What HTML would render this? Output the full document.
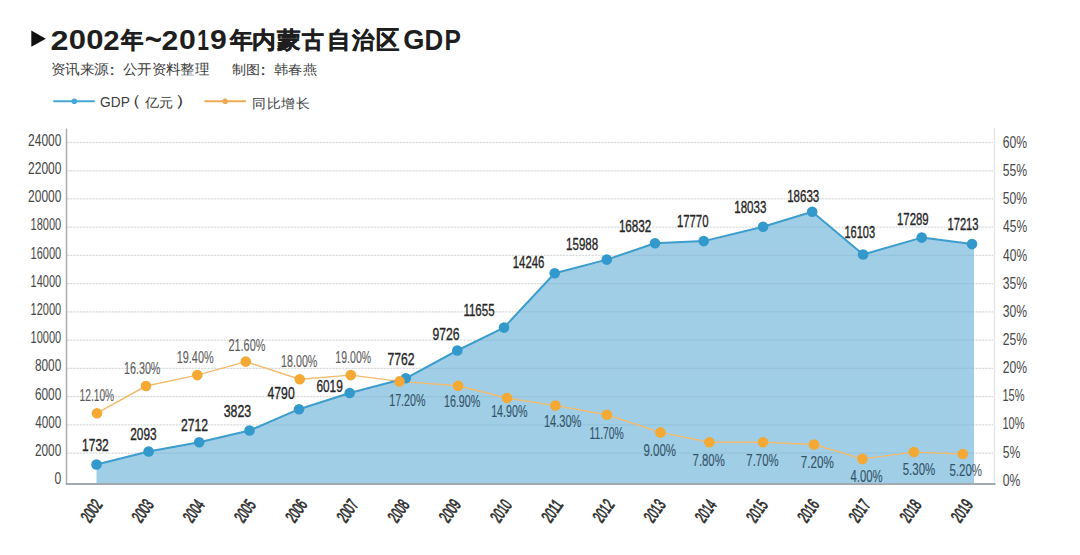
<!DOCTYPE html>
<html><head><meta charset="utf-8">
<style>
html,body{margin:0;padding:0;background:#fff;}
body{width:1080px;height:555px;overflow:hidden;position:relative;font-family:"Liberation Sans",sans-serif;}
svg{position:absolute;left:0;top:0;}

.g{font-family:"Liberation Sans",sans-serif;font-size:16px;}
.p{font-family:"Liberation Sans",sans-serif;font-size:16px;}
.ax{font-family:"Liberation Sans",sans-serif;font-size:16px;}
.yr{font-family:"Liberation Sans",sans-serif;font-size:16px;}
.t{font-family:"Liberation Sans",sans-serif;font-weight:bold;font-size:27px;}
.s{font-family:"Liberation Sans",sans-serif;font-size:14px;}

.g{fill:#262626;stroke:#262626;stroke-width:0.35px;}
.p{fill:#1a1a1a;stroke:#1a1a1a;stroke-width:0.15px;opacity:0.72;}
.p.b{fill:#0a2538;stroke:#0a2538;}
.ax{fill:#474747;}
.yr{fill:#2e2e2e;stroke:#2e2e2e;stroke-width:0.7px;}
.t{fill:#1e1e1e;}
.tc{stroke:#1e1e1e;stroke-width:0.5px;}
.s{fill:#3c3c3c;}
</style></head><body>
<svg width="1080" height="555" viewBox="0 0 1080 555">
<polygon points="31.3,30.6 45.8,38.7 31.3,46.8" fill="#111"/>
<line x1="53.3" y1="101.3" x2="94.8" y2="101.3" stroke="#46a6d6" stroke-width="2"/>
<circle cx="74.3" cy="101.3" r="2.8" fill="#46a6d6"/>
<line x1="204.4" y1="101.3" x2="245.9" y2="101.3" stroke="#f0aa55" stroke-width="2"/>
<circle cx="225.2" cy="101.3" r="2.8" fill="#f0aa55"/>
<g stroke="#e3e3e3" stroke-width="1.2" stroke-dasharray="1.6 1.6"><line x1="67" y1="142.5" x2="993" y2="142.5"/><line x1="67" y1="170.73" x2="993" y2="170.73"/><line x1="67" y1="198.96" x2="993" y2="198.96"/><line x1="67" y1="227.19" x2="993" y2="227.19"/><line x1="67" y1="255.42" x2="993" y2="255.42"/><line x1="67" y1="283.65" x2="993" y2="283.65"/><line x1="67" y1="311.88" x2="993" y2="311.88"/><line x1="67" y1="340.11" x2="993" y2="340.11"/><line x1="67" y1="368.34" x2="993" y2="368.34"/><line x1="67" y1="396.57" x2="993" y2="396.57"/><line x1="67" y1="424.8" x2="993" y2="424.8"/><line x1="67" y1="453.03" x2="993" y2="453.03"/></g>
<polygon points="96.5,483 96.5,464.5 148.6,451.5 199.2,442.2 249.5,430.5 299,409.2 349.7,393 405.8,378.3 457.3,350.5 504,327.6 554.7,273.2 606.8,259.6 655,243.3 703.7,241.1 763.1,226.7 812.2,211.7 863.1,254.5 921.7,237.6 972,244.1 974,244.5 974,483" fill="#a0cee6"/>
<g stroke="rgba(0,30,60,0.055)" stroke-width="1.3"><line x1="67" y1="142.5" x2="993" y2="142.5"/><line x1="67" y1="170.73" x2="993" y2="170.73"/><line x1="67" y1="198.96" x2="993" y2="198.96"/><line x1="67" y1="227.19" x2="993" y2="227.19"/><line x1="67" y1="255.42" x2="993" y2="255.42"/><line x1="67" y1="283.65" x2="993" y2="283.65"/><line x1="67" y1="311.88" x2="993" y2="311.88"/><line x1="67" y1="340.11" x2="993" y2="340.11"/><line x1="67" y1="368.34" x2="993" y2="368.34"/><line x1="67" y1="396.57" x2="993" y2="396.57"/><line x1="67" y1="424.8" x2="993" y2="424.8"/><line x1="67" y1="453.03" x2="993" y2="453.03"/></g>
<line x1="66.5" y1="128.5" x2="66.5" y2="484.5" stroke="#adadad" stroke-width="1.5"/>
<line x1="994.5" y1="128" x2="994.5" y2="484.5" stroke="#e6e6e6" stroke-width="1.5"/>
<line x1="65.8" y1="483.9" x2="995.5" y2="483.9" stroke="#a2aab0" stroke-width="2"/>
<polyline points="97,413.2 146,386 197.3,375.1 245.8,361.6 299.7,379.2 350.8,375.1 399.5,381.4 458.1,385.7 507,398 555.4,405.6 606.9,414.8 660.4,432.4 709.4,442.2 763,442.2 814,444.5 862.4,458.9 913.9,452.1 962.8,454" fill="none" stroke="#f3bb6e" stroke-width="1.45" stroke-linejoin="round"/>
<polyline points="96.5,464.5 148.6,451.5 199.2,442.2 249.5,430.5 299,409.2 349.7,393 405.8,378.3 457.3,350.5 504,327.6 554.7,273.2 606.8,259.6 655,243.3 703.7,241.1 763.1,226.7 812.2,211.7 863.1,254.5 921.7,237.6 972,244.1" fill="none" stroke="#3d9dcc" stroke-width="2" stroke-linejoin="round"/>
<circle cx="96.5" cy="464.5" r="5.3" fill="#3399cc"/>
<circle cx="148.6" cy="451.5" r="5.3" fill="#3399cc"/>
<circle cx="199.2" cy="442.2" r="5.3" fill="#3399cc"/>
<circle cx="249.5" cy="430.5" r="5.3" fill="#3399cc"/>
<circle cx="299" cy="409.2" r="5.3" fill="#3399cc"/>
<circle cx="349.7" cy="393" r="5.3" fill="#3399cc"/>
<circle cx="405.8" cy="378.3" r="5.3" fill="#3399cc"/>
<circle cx="457.3" cy="350.5" r="5.3" fill="#3399cc"/>
<circle cx="504" cy="327.6" r="5.3" fill="#3399cc"/>
<circle cx="554.7" cy="273.2" r="5.3" fill="#3399cc"/>
<circle cx="606.8" cy="259.6" r="5.3" fill="#3399cc"/>
<circle cx="655" cy="243.3" r="5.3" fill="#3399cc"/>
<circle cx="703.7" cy="241.1" r="5.3" fill="#3399cc"/>
<circle cx="763.1" cy="226.7" r="5.3" fill="#3399cc"/>
<circle cx="812.2" cy="211.7" r="5.3" fill="#3399cc"/>
<circle cx="863.1" cy="254.5" r="5.3" fill="#3399cc"/>
<circle cx="921.7" cy="237.6" r="5.3" fill="#3399cc"/>
<circle cx="972" cy="244.1" r="5.3" fill="#3399cc"/>
<circle cx="97" cy="413.2" r="5.3" fill="#f4a935"/>
<circle cx="146" cy="386" r="5.3" fill="#f4a935"/>
<circle cx="197.3" cy="375.1" r="5.3" fill="#f4a935"/>
<circle cx="245.8" cy="361.6" r="5.3" fill="#f4a935"/>
<circle cx="299.7" cy="379.2" r="5.3" fill="#f4a935"/>
<circle cx="350.8" cy="375.1" r="5.3" fill="#f4a935"/>
<circle cx="399.5" cy="381.4" r="5.3" fill="#f4a935"/>
<circle cx="458.1" cy="385.7" r="5.3" fill="#f4a935"/>
<circle cx="507" cy="398" r="5.3" fill="#f4a935"/>
<circle cx="555.4" cy="405.6" r="5.3" fill="#f4a935"/>
<circle cx="606.9" cy="414.8" r="5.3" fill="#f4a935"/>
<circle cx="660.4" cy="432.4" r="5.3" fill="#f4a935"/>
<circle cx="709.4" cy="442.2" r="5.3" fill="#f4a935"/>
<circle cx="763" cy="442.2" r="5.3" fill="#f4a935"/>
<circle cx="814" cy="444.5" r="5.3" fill="#f4a935"/>
<circle cx="862.4" cy="458.9" r="5.3" fill="#f4a935"/>
<circle cx="913.9" cy="452.1" r="5.3" fill="#f4a935"/>
<circle cx="962.8" cy="454" r="5.3" fill="#f4a935"/>
<text transform="matrix(0.75 0 0 1.03 82.07 451.19)" class="g">1732</text>
<text transform="matrix(0.74 0 0 1.03 130.24 440.34)" class="g">2093</text>
<text transform="matrix(0.76 0 0 1.05 181.03 430.65)" class="g">2712</text>
<text transform="matrix(0.77 0 0 1.03 223.72 416.99)" class="g">3823</text>
<text transform="matrix(0.76 0 0 1.03 267.61 399.19)" class="g">4790</text>
<text transform="matrix(0.74 0 0 1.03 316.44 391.99)" class="g">6019</text>
<text transform="matrix(0.76 0 0 1.03 387.43 364.54)" class="g">7762</text>
<text transform="matrix(0.76 0 0 1.03 432.43 340.09)" class="g">9726</text>
<text transform="matrix(0.72 0 0 1.03 463.41 315.74)" class="g">11655</text>
<text transform="matrix(0.71 0 0 1.03 512.81 268.39)" class="g">14246</text>
<text transform="matrix(0.72 0 0 1.03 566.1 249.74)" class="g">15988</text>
<text transform="matrix(0.73 0 0 1.03 618.88 231.94)" class="g">16832</text>
<text transform="matrix(0.71 0 0 1.03 676.91 226.59)" class="g">17770</text>
<text transform="matrix(0.72 0 0 1.03 734.3 213.24)" class="g">18033</text>
<text transform="matrix(0.72 0 0 1.03 787.2 202.24)" class="g">18633</text>
<text transform="matrix(0.69 0 0 1.03 844.44 238.49)" class="g">16103</text>
<text transform="matrix(0.71 0 0 1.03 897.01 225.14)" class="g">17289</text>
<text transform="matrix(0.7 0 0 1.03 947.43 230.04)" class="g">17213</text>
<text transform="matrix(0.64 0 0 0.99 79.5 400.6)" class="p">12.10%</text>
<text transform="matrix(0.67 0 0 0.99 124.06 373.55)" class="p">16.30%</text>
<text transform="matrix(0.68 0 0 0.99 176.75 362.75)" class="p">19.40%</text>
<text transform="matrix(0.68 0 0 0.99 228.49 350.85)" class="p">21.60%</text>
<text transform="matrix(0.67 0 0 0.99 281.06 367.05)" class="p">18.00%</text>
<text transform="matrix(0.66 0 0 0.99 335.37 362.85)" class="p">19.00%</text>
<text transform="matrix(0.67 0 0 0.99 389.17 405.75)" class="p b">17.20%</text>
<text transform="matrix(0.67 0 0 0.99 443.96 407.4)" class="p b">16.90%</text>
<text transform="matrix(0.67 0 0 0.99 491.16 416.65)" class="p b">14.90%</text>
<text transform="matrix(0.69 0 0 0.99 543.94 426.85)" class="p b">14.30%</text>
<text transform="matrix(0.65 0 0 0.99 589.39 438.85)" class="p b">11.70%</text>
<text transform="matrix(0.72 0 0 0.99 643.46 455.65)" class="p b">9.00%</text>
<text transform="matrix(0.71 0 0 0.99 692.57 465.5)" class="p b">7.80%</text>
<text transform="matrix(0.71 0 0 0.99 746.36 465.5)" class="p b">7.70%</text>
<text transform="matrix(0.73 0 0 0.99 800.76 468.25)" class="p b">7.20%</text>
<text transform="matrix(0.71 0 0 0.99 850.52 482.1)" class="p b">4.00%</text>
<text transform="matrix(0.72 0 0 0.99 902.66 475.35)" class="p b">5.30%</text>
<text transform="matrix(0.72 0 0 0.99 949.46 476.2)" class="p b">5.20%</text>
<text transform="matrix(0.75 0 0 0.99 28.04 145.75)" class="ax">24000</text>
<text transform="matrix(0.75 0 0 0.99 28.04 173.95)" class="ax">22000</text>
<text transform="matrix(0.75 0 0 0.99 28.04 202.15)" class="ax">20000</text>
<text transform="matrix(0.69 0 0 0.99 30.53 230.35)" class="ax">18000</text>
<text transform="matrix(0.69 0 0 0.99 30.53 258.55)" class="ax">16000</text>
<text transform="matrix(0.69 0 0 0.99 30.53 286.75)" class="ax">14000</text>
<text transform="matrix(0.69 0 0 0.99 30.53 314.95)" class="ax">12000</text>
<text transform="matrix(0.69 0 0 0.99 30.53 343.15)" class="ax">10000</text>
<text transform="matrix(0.74 0 0 0.99 34.94 371.35)" class="ax">8000</text>
<text transform="matrix(0.74 0 0 0.99 34.94 399.55)" class="ax">6000</text>
<text transform="matrix(0.73 0 0 0.99 35.32 427.75)" class="ax">4000</text>
<text transform="matrix(0.74 0 0 0.99 34.94 455.95)" class="ax">2000</text>
<text transform="matrix(0.76 0 0 0.99 54.43 484.15)" class="ax">0</text>
<text transform="matrix(0.76 0 0 0.99 1002.73 147.95)" class="ax">60%</text>
<text transform="matrix(0.76 0 0 1.01 1002.73 176.1)" class="ax">55%</text>
<text transform="matrix(0.76 0 0 0.99 1002.73 204.25)" class="ax">50%</text>
<text transform="matrix(0.75 0 0 1.01 1003.11 232.4)" class="ax">45%</text>
<text transform="matrix(0.75 0 0 0.99 1003.11 260.55)" class="ax">40%</text>
<text transform="matrix(0.76 0 0 0.99 1002.73 288.7)" class="ax">35%</text>
<text transform="matrix(0.76 0 0 0.99 1002.73 316.85)" class="ax">30%</text>
<text transform="matrix(0.76 0 0 0.99 1002.73 345)" class="ax">25%</text>
<text transform="matrix(0.76 0 0 0.99 1002.73 373.15)" class="ax">20%</text>
<text transform="matrix(0.69 0 0 1.01 1002.44 401.3)" class="ax">15%</text>
<text transform="matrix(0.69 0 0 0.99 1002.44 429.45)" class="ax">10%</text>
<text transform="matrix(0.76 0 0 1.01 1002.73 457.6)" class="ax">5%</text>
<text transform="matrix(0.76 0 0 0.99 1002.73 485.75)" class="ax">0%</text>
<text transform="matrix(1.2 0 0 1.05 50.6 49.5)" class="t">2</text>
<text transform="matrix(1.15 0 0 1.03 68.75 49.24)" class="t">0</text>
<text transform="matrix(1.15 0 0 1.03 86.25 49.24)" class="t">0</text>
<text transform="matrix(1.09 0 0 1.05 103.21 49.5)" class="t">2</text>
<text transform="matrix(0.85 0 0 0.87 121.43 47.83)" class="t tc">年</text>
<text transform="matrix(1.09 0 0 1.22 144.71 50.46)" class="t">~</text>
<text transform="matrix(1.12 0 0 1.05 161.48 49.5)" class="t">2</text>
<text transform="matrix(1.12 0 0 1.03 178.98 49.24)" class="t">0</text>
<text transform="matrix(0.78 0 0 1.06 197.24 49.5)" class="t">1</text>
<text transform="matrix(1.12 0 0 1.03 210.08 49.24)" class="t">9</text>
<text transform="matrix(0.86 0 0 0.87 229.63 47.83)" class="t tc">年</text>
<text transform="matrix(0.89 0 0 0.86 251.65 47.68)" class="t tc">内</text>
<text transform="matrix(0.87 0 0 0.85 276.8 47.5)" class="t tc">蒙</text>
<text transform="matrix(0.82 0 0 0.86 302.2 47.86)" class="t tc">古</text>
<text transform="matrix(0.89 0 0 0.87 326.7 47.83)" class="t tc">自</text>
<text transform="matrix(0.83 0 0 0.86 351.71 47.86)" class="t tc">治</text>
<text transform="matrix(0.88 0 0 0.98 376.3 49.38)" class="t tc">区</text>
<text transform="matrix(1.01 0 0 1.03 403.29 49.24)" class="t">G</text>
<text transform="matrix(0.96 0 0 1.06 424.51 49.5)" class="t">D</text>
<text transform="matrix(0.91 0 0 1.06 444.5 49.5)" class="t">P</text>
<text transform="matrix(1.02 0 0 0.97 51.08 74.4)" class="s">资讯来源</text>
<text transform="matrix(1.33 0 0 1.17 102.77 75.2)" class="s">：</text>
<text transform="matrix(1.01 0 0 0.97 123.15 74.4)" class="s">公开资料整理</text>
<text transform="matrix(1.04 0 0 0.96 231.64 74.19)" class="s">制图</text>
<text transform="matrix(1.33 0 0 1.17 253.97 75.2)" class="s">：</text>
<text transform="matrix(1.04 0 0 0.94 273.74 73.99)" class="s">韩春燕</text>
<text transform="matrix(0.98 0 0 1.07 100.06 106.9)" class="s">GDP</text>
<text transform="matrix(1.42 0 0 1.16 122.14 106.2)" class="s">（</text>
<text transform="matrix(1.02 0 0 0.94 144.6 106.75)" class="s">亿元</text>
<text transform="matrix(1.64 0 0 1.16 174.02 106.2)" class="s">）</text>
<text transform="matrix(1.02 0 0 0.96 252.43 107.62)" class="s">同比增长</text>
<g transform="translate(91.4,510.8) rotate(-55)"><text transform="matrix(0.66 0 0 1.1 -11.69 6.03)" class="yr">2002</text></g>
<g transform="translate(142.6,510.8) rotate(-55)"><text transform="matrix(0.66 0 0 1.1 -11.69 6.03)" class="yr">2003</text></g>
<g transform="translate(193.8,510.8) rotate(-55)"><text transform="matrix(0.65 0 0 1.1 -11.69 6.03)" class="yr">2004</text></g>
<g transform="translate(245,510.8) rotate(-55)"><text transform="matrix(0.65 0 0 1.1 -11.69 6.03)" class="yr">2005</text></g>
<g transform="translate(296.2,510.8) rotate(-55)"><text transform="matrix(0.66 0 0 1.1 -11.69 6.03)" class="yr">2006</text></g>
<g transform="translate(347.4,510.8) rotate(-55)"><text transform="matrix(0.66 0 0 1.1 -11.69 6.03)" class="yr">2007</text></g>
<g transform="translate(398.6,510.8) rotate(-55)"><text transform="matrix(0.65 0 0 1.1 -11.69 6.03)" class="yr">2008</text></g>
<g transform="translate(449.8,510.8) rotate(-55)"><text transform="matrix(0.66 0 0 1.1 -11.69 6.03)" class="yr">2009</text></g>
<g transform="translate(501,510.8) rotate(-55)"><text transform="matrix(0.65 0 0 1.1 -11.69 6.03)" class="yr">2010</text></g>
<g transform="translate(552.2,510.8) rotate(-55)"><text transform="matrix(0.68 0 0 1.1 -11.71 6.03)" class="yr">2011</text></g>
<g transform="translate(603.4,510.8) rotate(-55)"><text transform="matrix(0.66 0 0 1.1 -11.69 6.03)" class="yr">2012</text></g>
<g transform="translate(654.6,510.8) rotate(-55)"><text transform="matrix(0.66 0 0 1.1 -11.69 6.03)" class="yr">2013</text></g>
<g transform="translate(705.8,510.8) rotate(-55)"><text transform="matrix(0.65 0 0 1.1 -11.69 6.03)" class="yr">2014</text></g>
<g transform="translate(757,510.8) rotate(-55)"><text transform="matrix(0.65 0 0 1.1 -11.69 6.03)" class="yr">2015</text></g>
<g transform="translate(808.2,510.8) rotate(-55)"><text transform="matrix(0.66 0 0 1.1 -11.69 6.03)" class="yr">2016</text></g>
<g transform="translate(859.4,510.8) rotate(-55)"><text transform="matrix(0.66 0 0 1.1 -11.69 6.03)" class="yr">2017</text></g>
<g transform="translate(910.6,510.8) rotate(-55)"><text transform="matrix(0.65 0 0 1.1 -11.69 6.03)" class="yr">2018</text></g>
<g transform="translate(961.8,510.8) rotate(-55)"><text transform="matrix(0.66 0 0 1.1 -11.69 6.03)" class="yr">2019</text></g>
</svg>
</body></html>
